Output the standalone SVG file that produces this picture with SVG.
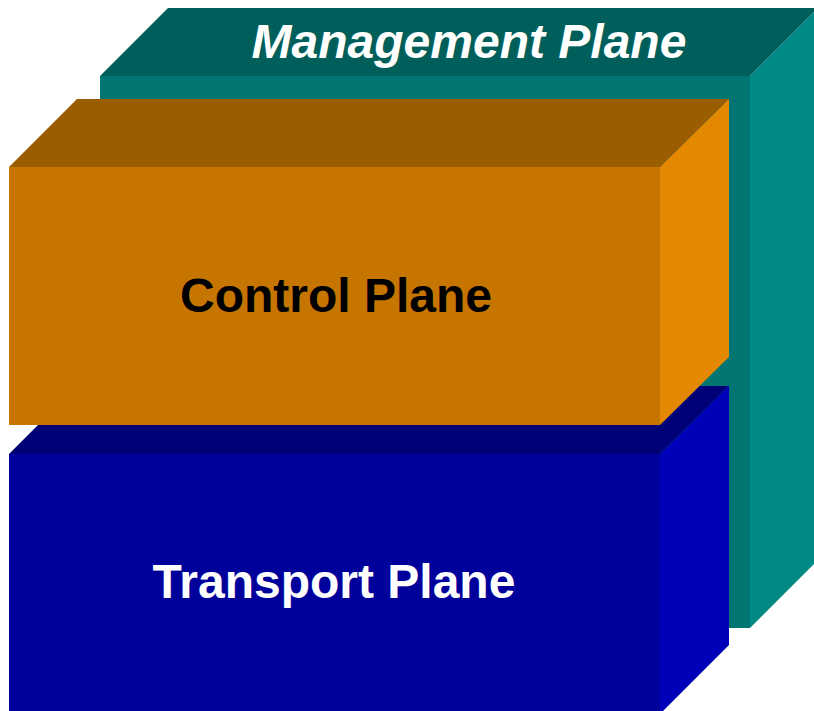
<svg xmlns="http://www.w3.org/2000/svg" width="814" height="711" viewBox="0 0 814 711">
<style>
text{font-family:"Liberation Sans",Arial,sans-serif;font-weight:bold;font-size:48px;text-anchor:middle}
</style>
<rect width="814" height="711" fill="#ffffff"/>
<g id="management">
<polygon points="100,76 168,8 818,8 750,76" fill="#005F5A"/>
<polygon points="750,76 818,8 818,560 750,628" fill="#008A87"/>
<rect x="100" y="76" width="650" height="552" fill="#007572"/>
<text x="469" y="58" fill="#ffffff" font-style="italic">Management Plane</text>
</g>
<g id="transport">
<polygon points="9,454 77,386 729,386 660,454" fill="#000077"/>
<polygon points="660,454 729,386 729,645 660,714" fill="#0000B8"/>
<rect x="9" y="454" width="651" height="260" fill="#00009A"/>
<text x="334" y="598" fill="#ffffff">Transport Plane</text>
</g>
<g id="control">
<polygon points="9,167 77,99 729,99 660,167" fill="#9A5E00"/>
<polygon points="660,167 729,99 729,357 660,425" fill="#E38800"/>
<rect x="9" y="167" width="651" height="258" fill="#C67500"/>
<text x="336" y="312" fill="#000000">Control Plane</text>
</g>
<g id="connectors"/>
</svg>
